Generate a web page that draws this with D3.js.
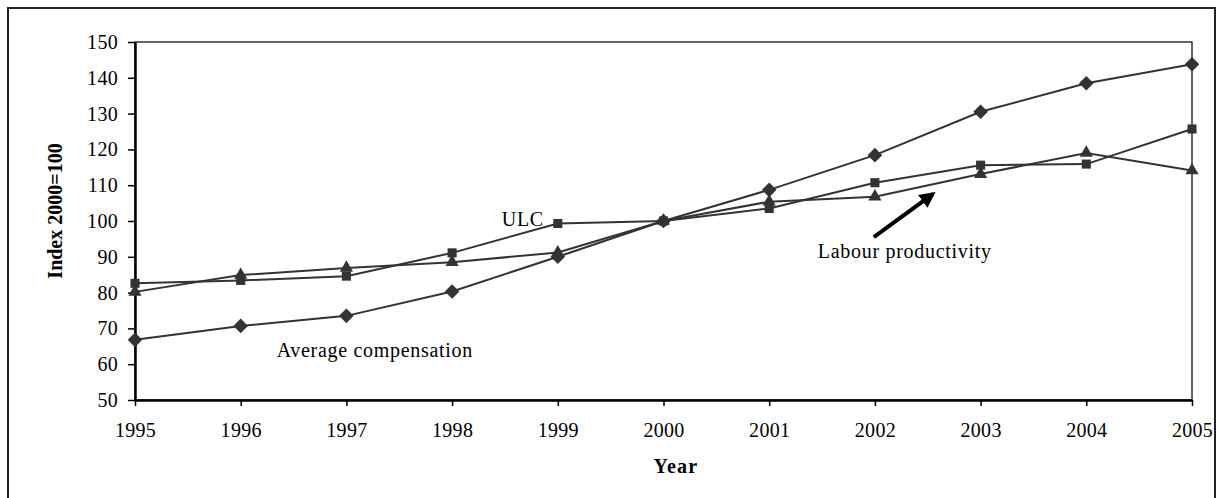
<!DOCTYPE html>
<html>
<head>
<meta charset="utf-8">
<script src="https://cdn.jsdelivr.net/npm/d3@7"></script>
<style>
  body { margin: 0; background: #fff; }
  text { font-family: "Liberation Serif", "Times New Roman", serif; }
</style>
</head>
<body>
<div id="chart"></div>
<script>
// data
const years = [1995, 1996, 1997, 1998, 1999, 2000, 2001, 2002, 2003, 2004, 2005];
const avgComp = [66.8, 70.7, 73.5, 80.3, 90.0, 100, 108.7, 118.4, 130.5, 138.5, 143.8];
const ulc = [82.6, 83.4, 84.6, 91.1, 99.3, 100, 103.5, 110.7, 115.6, 115.9, 125.7];
const labProd = [80.2, 84.9, 86.9, 88.5, 91.2, 100, 105.4, 106.8, 113.1, 119.0, 114.1];
const yTicks = [50, 60, 70, 80, 90, 100, 110, 120, 130, 140, 150];

const width = 1218, height = 498;
const margin = {top: 42, right: 26, bottom: 98, left: 135};

const svg = d3.select("#chart")
    .append("svg")
        .attr("width", width)
        .attr("height", height);

// outer frame
svg.append("rect")
    .attr("x", 8).attr("y", 8)
    .attr("width", 1207).attr("height", 520)
    .attr("fill", "none")
    .attr("stroke", "#222")
    .attr("stroke-width", 2);

const x = d3.scalePoint()
    .domain(years)
    .range([margin.left, width - margin.right]);

// annotation positions need fractional years
const xl = d3.scaleLinear()
    .domain([1995, 2005])
    .range([margin.left, width - margin.right]);

const y = d3.scaleLinear()
    .domain([50, 150])
    .range([height - margin.bottom, margin.top]);

// plot box, top + right are thin
svg.append("rect")
    .attr("x", margin.left)
    .attr("y", margin.top)
    .attr("width", width - margin.right - margin.left)
    .attr("height", height - margin.bottom - margin.top)
    .attr("fill", "none")
    .attr("stroke", "#000")
    .attr("stroke-width", 1.2);

const xAxis = svg.append("g")
    .attr("transform", `translate(0,${height - margin.bottom})`)
    .call(d3.axisBottom(x).tickSize(6).tickPadding(17).tickSizeOuter(0));

const yAxis = svg.append("g")
    .attr("transform", `translate(${margin.left},0)`)
    .call(d3.axisLeft(y).tickValues(yTicks).tickSize(7).tickPadding(10).tickSizeOuter(0));

[xAxis, yAxis].forEach(g => {
    g.select(".domain").attr("stroke", "#000").attr("stroke-width", 2.5);
    g.selectAll(".tick line").attr("stroke", "#000").attr("stroke-width", 1.5);
    g.selectAll(".tick text")
        .attr("fill", "#000")
        .style("font-size", "20px")
        .style("letter-spacing", "0.3px")
        .style("font-family", "Liberation Serif");
});

// axis titles
svg.append("text")
    .attr("x", 676).attr("y", 473)
    .attr("text-anchor", "middle")
    .style("font-size", "20px")
    .style("font-weight", "bold")
    .style("letter-spacing", "1.2px")
    .text("Year");

svg.append("text")
    .attr("transform", `translate(62,${(margin.top + height - margin.bottom) / 2 - 10}) rotate(-90)`)
    .attr("text-anchor", "middle")
    .style("font-size", "20px")
    .style("font-weight", "bold")
    .text("Index 2000=100");

const series = [
    {name: "Average compensation", values: avgComp, sym: d3.symbolDiamond2, size: 135},
    {name: "ULC", values: ulc, sym: d3.symbolSquare2, size: 105},
    {name: "Labour productivity", values: labProd, sym: d3.symbolTriangle2, size: 125},
];

const line = d3.line()
    .x((d, i) => x(years[i]))
    .y(d => y(d));

const lineColor = "#333";

series.forEach(s => {
    svg.append("path")
        .datum(s.values)
        .attr("d", line)
        .attr("fill", "none")
        .attr("stroke", lineColor)
        .attr("stroke-width", 2);
});

series.forEach(s => {
    svg.append("g")
        .selectAll("path")
        .data(s.values)
        .join("path")
        .attr("transform", (d, i) => `translate(${x(years[i])},${y(d)})`)
        .attr("d", d3.symbol().type(s.sym).size(s.size))
        .attr("fill", lineColor);
});

// labels on the lines
const labels = [
    {text: "ULC", yr: 1998.47, v: 98.6},
    {text: "Average compensation", yr: 1996.34, v: 62.0},
    {text: "Labour productivity", yr: 2001.46, v: 89.7},
];

svg.selectAll("text.lab")
    .data(labels)
    .join("text")
    .attr("class", "lab")
    .attr("x", d => xl(d.yr))
    .attr("y", d => y(d.v))
    .style("font-size", "20px")
    .style("letter-spacing", "0.7px")
    .attr("fill", "#000")
    .text(d => d.text);

// arrow pointing at productivity line
svg.append("defs").append("marker")
    .attr("id", "head")
    .attr("viewBox", "0 0 10 10")
    .attr("refX", 8).attr("refY", 5)
    .attr("markerWidth", 4).attr("markerHeight", 4)
    .attr("orient", "auto")
    .append("path")
    .attr("d", "M0,0 L10,5 L0,10 z")
    .attr("fill", "#000");

svg.append("line")
    .attr("x1", xl(2001.99)).attr("y1", y(95.5))
    .attr("x2", xl(2002.55)).attr("y2", y(107.6))
    .attr("stroke", "#000")
    .attr("stroke-width", 4)
    .attr("marker-end", "url(#head)");
</script>
</body>
</html>
